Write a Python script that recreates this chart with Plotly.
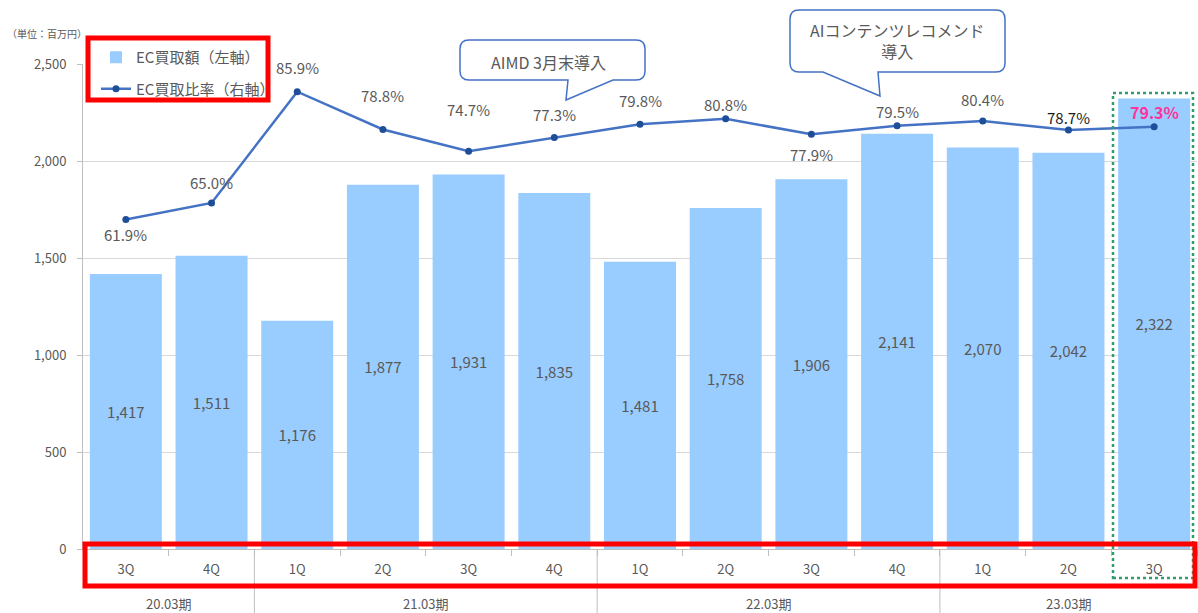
import plotly.graph_objects as go

# data
periods = ["20.03期", "20.03期", "21.03期", "21.03期", "21.03期", "21.03期",
           "22.03期", "22.03期", "22.03期", "22.03期", "23.03期", "23.03期", "23.03期"]
quarters = ["3Q", "4Q", "1Q", "2Q", "3Q", "4Q", "1Q", "2Q", "3Q", "4Q", "1Q", "2Q", "3Q"]
ec_amount = [1417, 1511, 1176, 1877, 1931, 1835, 1481, 1758, 1906, 2141, 2070, 2042, 2322]
ec_ratio = [61.9, 65.0, 85.9, 78.8, 74.7, 77.3, 79.8, 80.8, 77.9, 79.5, 80.4, 78.7, 79.3]

# label offsets (px) for the ratio labels, as placed in the original
label_dy = [-15, 20, 24, 34, 42, 23, 24, 14, -20, 14, 21, 13, 15]

FONT = "Noto Sans CJK JP"
GRAY = "#595959"
W, H = 1198, 613
L, T, PW, PH = 83, 64, 1114, 485
R, B = W - L - PW, H - T - PH


def px(x, y):
    # pixel position -> paper coords
    return (x - L) / PW, (T + PH - y) / PH


def callout_path(x0, y0, x1, y1, tail, r=9):
    pts = []
    ta, tip, tb = tail  # tail base right x, tip (x, y), tail base left x

    def P(cmd, x, y):
        a, b = px(x, y)
        pts.append(f"{cmd}{a:.5f},{b:.5f}")
    P("M", x0 + r, y0)
    P("L", x1 - r, y0)
    P("Q", x1, y0); P(" ", x1, y0 + r)
    P("L", x1, y1 - r)
    P("Q", x1, y1); P(" ", x1 - r, y1)
    P("L", ta, y1)
    P("L", tip[0], tip[1])
    P("L", tb, y1)
    P("L", x0 + r, y1)
    P("Q", x0, y1); P(" ", x0, y1 - r)
    P("L", x0, y0 + r)
    P("Q", x0, y0); P(" ", x0 + r, y0)
    return " ".join(pts) + " Z"


cats = [f"{p} {q}" for p, q in zip(periods, quarters)]

fig = go.Figure()
fig.add_trace(go.Bar(
    x=cats, y=ec_amount, name="EC買取額（左軸）",
    marker_color="#99CCFF", marker_line_width=0,
    texttemplate="%{y:,}", textposition="inside", insidetextanchor="middle",
    textangle=0, textfont=dict(color=GRAY, size=15, family=FONT),
    legendgroup="a",
))
fig.add_trace(go.Scatter(
    x=cats, y=ec_ratio, name="EC買取比率（右軸）", yaxis="y2", mode="lines+markers",
    line=dict(color="#4472C4", width=2.5),
    marker=dict(color="#1F4E99", size=7),
    legendgroup="b",
))

annotations = []
for i, (v, dy) in enumerate(zip(ec_ratio, label_dy)):
    last = i == len(ec_ratio) - 1
    dark = i == len(ec_ratio) - 2
    annotations.append(dict(
        x=cats[i], y=v, xref="x", yref="y2", text=f"{v:.1f}%", showarrow=False,
        yshift=dy, yanchor="middle", xanchor="center",
        font=dict(family=FONT, size=16 if last else 15,
                  color="#FF3399" if last else ("#1a1a1a" if dark else GRAY),
                  weight="bold" if last else "normal"),
    ))

# period labels under the quarter labels, and dividers between periods
groups = []
for i, p in enumerate(periods):
    if not groups or groups[-1][0] != p:
        groups.append([p, i, i])
    else:
        groups[-1][2] = i
_, yb = px(0, 603)
_, ybot = px(0, 613)
shapes = []
for p, a, b in groups:
    annotations.append(dict(x=(a + b) / 2, y=yb, xref="x", yref="paper", text=p,
                            showarrow=False, yanchor="middle", xanchor="center",
                            font=dict(family=FONT, size=13, color=GRAY)))
    if a > 0:
        shapes.append(dict(type="line", xref="x", yref="paper", x0=a - 0.5, x1=a - 0.5,
                           y0=0, y1=ybot, line=dict(color="#bfbfbf", width=1)))

ux, uy = px(5, 33)
annotations.append(dict(x=ux, y=uy, xref="paper", yref="paper", text="（単位：百万円）",
                        showarrow=False, xanchor="left", yanchor="middle",
                        font=dict(family=FONT, size=10, color=GRAY)))
ax1, ay1 = px(548, 62)
annotations.append(dict(x=ax1, y=ay1, xref="paper", yref="paper", text="AIMD 3月末導入",
                        showarrow=False, xanchor="center", yanchor="middle",
                        font=dict(family=FONT, size=16, color=GRAY)))
ax2, ay2 = px(897, 41)
annotations.append(dict(x=ax2, y=ay2, xref="paper", yref="paper",
                        text="AIコンテンツレコメンド<br>導入", showarrow=False,
                        xanchor="center", yanchor="middle",
                        font=dict(family=FONT, size=16, color=GRAY)))

shapes.append(dict(type="path", xref="paper", yref="paper",
                   path=callout_path(460, 40, 645, 80, (613, (566, 100), 568)),
                   line=dict(color="#4472C4", width=1.5), fillcolor="white"))
shapes.append(dict(type="path", xref="paper", yref="paper",
                   path=callout_path(790, 10, 1005, 72, (878, (880, 96), 823)),
                   line=dict(color="#4472C4", width=1.5), fillcolor="white"))


def rect(x0, y0, x1, y1, **kw):
    a0, b1 = px(x0, y0)
    a1, b0 = px(x1, y1)
    return dict(type="rect", xref="paper", yref="paper", x0=a0, y0=b0, x1=a1, y1=b1, **kw)


shapes.append(rect(1113, 93, 1193, 578, line=dict(color="#2E9E6A", width=2.5, dash="dot")))
shapes.append(rect(88, 38, 268, 100, line=dict(color="#FF0000", width=5)))
shapes.append(rect(85, 544, 1195, 586, line=dict(color="#FF0000", width=5)))

lx, ly = px(96, 41)
fig.update_layout(
    width=W, height=H,
    margin=dict(l=L, r=R, t=T, b=B, autoexpand=False),
    paper_bgcolor="white", plot_bgcolor="white",
    font=dict(family=FONT, color=GRAY, size=13),
    bargap=0.16,
    xaxis=dict(
        type="category", tickmode="array", tickvals=cats, ticktext=quarters,
        tickson="boundaries", showline=True, linecolor="#bfbfbf", ticks="outside",
        tickcolor="#bfbfbf", ticklen=6, tickfont=dict(size=13, color=GRAY),
        showgrid=False, range=[-0.5, 12.5], ticklabelstandoff=8,
    ),
    yaxis=dict(
        range=[0, 2500], dtick=500, tickformat=",", showgrid=True,
        gridcolor="#d9d9d9", showline=True, linecolor="#bfbfbf", ticks="outside",
        tickcolor="#bfbfbf", ticklen=5, tickfont=dict(size=13, color=GRAY),
        zeroline=False, ticklabelstandoff=8,
    ),
    yaxis2=dict(range=[0, 91.1], overlaying="y", side="right", visible=False),
    showlegend=True,
    legend=dict(x=lx, y=ly, xanchor="left", yanchor="top", bgcolor="rgba(0,0,0,0)",
                font=dict(size=15, color=GRAY), tracegroupgap=9, traceorder="grouped",
                itemwidth=30),
    annotations=annotations,
    shapes=shapes,
)

# drop the page's default body margin so the figure sits at the window's corner
fig.write_html("out.html", config={"displayModeBar": False},
               post_script="document.body.style.margin='0';")
